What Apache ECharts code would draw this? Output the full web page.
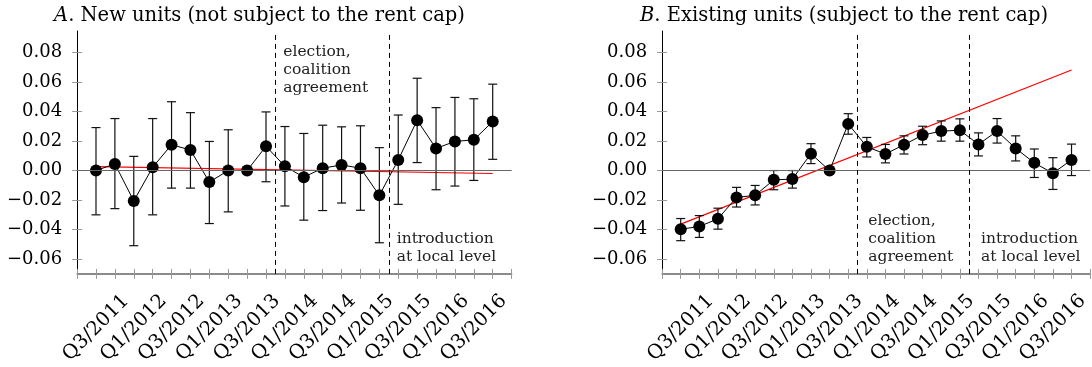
<!DOCTYPE html>
<html>
<head>
<meta charset="utf-8">
<script src="https://cdn.jsdelivr.net/npm/echarts@6/dist/echarts.min.js"></script>
<style>
html,body{margin:0;padding:0;background:#fff;}
#c{width:1092px;height:367px;}
</style>
</head>
<body>
<div id="c"></div>
<script>
// ---- data ----
const quarters = ['Q3/2011','Q4/2011','Q1/2012','Q2/2012','Q3/2012','Q4/2012','Q1/2013','Q2/2013',
  'Q3/2013','Q4/2013','Q1/2014','Q2/2014','Q3/2014','Q4/2014','Q1/2015','Q2/2015','Q3/2015','Q4/2015',
  'Q1/2016','Q2/2016','Q3/2016','Q4/2016'];
const labelledIdx = [0,2,4,6,8,10,12,14,16,18,20];
const yTicks = [-0.06,-0.04,-0.02,0,0.02,0.04,0.06,0.08];
const eventLines = [9.5, 15.5];

const estA = [0.000, 0.0045, -0.0206, 0.0022, 0.0175, 0.0139, -0.0078, 0.000, 0.000, 0.0164, 0.0029,
  -0.0045, 0.0016, 0.0038, 0.0016, -0.0168, 0.0072, 0.0341, 0.0150, 0.0197, 0.0208, 0.0332];
const hiA = [0.0291, 0.0352, 0.0096, 0.0352, 0.0466, 0.0392, 0.0197, 0.0276, null, 0.0397, 0.0298,
  0.0251, 0.0307, 0.0296, 0.0303, 0.0155, 0.0376, 0.0625, 0.0426, 0.0495, 0.0486, 0.0585];
const loA = [-0.0300, -0.0258, -0.0509, -0.0300, -0.0119, -0.0119, -0.0359, -0.0280, null, -0.0076, -0.0240,
  -0.0336, -0.0271, -0.0220, -0.0269, -0.0489, -0.0229, 0.0054, -0.0130, -0.0105, -0.0067, 0.0076];
const trendAx = [0, 21];
const trendAy = [0.0027, -0.0020];

const estB = [-0.0397, -0.0379, -0.0327, -0.0182, -0.0168, -0.0063, -0.0058, 0.0114, 0.000, 0.0316, 0.0161,
  0.0112, 0.0175, 0.0240, 0.0267, 0.0273, 0.0177, 0.0267, 0.0150, 0.0052, -0.0018, 0.0072];
const hiB = [-0.0325, -0.0305, -0.0255, -0.0114, -0.0101, 0.0000, 0.0000, 0.0182, null, 0.0385, 0.0224,
  0.0177, 0.0235, 0.0300, 0.0336, 0.0350, 0.0255, 0.0352, 0.0235, 0.0146, 0.0087, 0.0179];
const loB = [-0.0475, -0.0453, -0.0397, -0.0247, -0.0233, -0.0130, -0.0119, 0.0047, null, 0.0246, 0.0092,
  0.0052, 0.0112, 0.0175, 0.0199, 0.0199, 0.0099, 0.0186, 0.0065, -0.0047, -0.0128, -0.0034];
const trendBx = [0, 21];
const trendBy = [-0.0363, 0.0681];

// ---- chart ----
const FONT = 'DejaVu Serif';
const chart = echarts.init(document.getElementById('c'), null, {renderer:'canvas'});
const xTickVals = []; for (let i = -1; i <= 22; i++) xTickVals.push(i);
const fmtY = v => (v < -1e-9 ? '\u2212' : '') + Math.abs(v).toFixed(2);

function grid(left){ return {left: left, top: 31, width: 434.5, height: 244.5, containLabel: false}; }
function xAxes(gi){
  return [{
    type:'value', gridIndex: gi, min:-1, max:22, position:'bottom',
    axisLine:{show:true, onZero:false, lineStyle:{color:'#666', width:1.5}},
    axisTick:{show:true, inside:false, length:5, customValues:xTickVals, lineStyle:{color:'#999', width:1}},
    axisLabel:{show:true, customValues:labelledIdx, rotate:45, align:'center', verticalAlign:'middle',
      margin:54, fontFamily:FONT, fontSize:19.5, color:'#000', formatter: v => quarters[Math.round(v)]},
    splitLine:{show:false}
  },{
    type:'value', gridIndex: gi, min:-1, max:22, position:'bottom',
    axisLine:{show:false, onZero:false},
    axisTick:{show:true, inside:true, length:5, customValues:xTickVals, lineStyle:{color:'#999', width:1}},
    axisLabel:{show:false}, splitLine:{show:false}
  }];
}
function yAxes(gi){
  return [{
    type:'value', gridIndex: gi, min:-0.07, max:0.0945, position:'left',
    axisLine:{show:true, onZero:false, lineStyle:{color:'#000', width:1}},
    axisTick:{show:true, inside:false, length:5, customValues:yTicks, lineStyle:{color:'#999', width:1}},
    axisLabel:{show:true, customValues:yTicks, margin:15, fontFamily:FONT, fontSize:18, color:'#000', formatter: fmtY},
    splitLine:{show:false}
  },{
    type:'value', gridIndex: gi, min:-0.07, max:0.0945, position:'left',
    axisLine:{show:false, onZero:false},
    axisTick:{show:true, inside:true, length:5, customValues:yTicks, lineStyle:{color:'#999', width:1}},
    axisLabel:{show:false}, splitLine:{show:false}
  }];
}

function errRender(params, api){
  const x = api.value(0), lo = api.value(1), hi = api.value(2);
  const a = api.coord([x, lo]), b = api.coord([x, hi]);
  const w = 4.5;
  const st = {stroke:'#111', lineWidth:1.2};
  return {type:'group', children:[
    {type:'line', shape:{x1:a[0], y1:a[1], x2:b[0], y2:b[1]}, style:st},
    {type:'line', shape:{x1:a[0]-w, y1:a[1], x2:a[0]+w, y2:a[1]}, style:st},
    {type:'line', shape:{x1:b[0]-w, y1:b[1], x2:b[0]+w, y2:b[1]}, style:st}
  ]};
}

function panelSeries(gi, est, lo, hi, tx, ty){
  const xi = gi*2, yi = gi*2;
  const errData = [];
  est.forEach((v,i) => { if (lo[i] != null && hi[i] != null) errData.push([i, lo[i], hi[i]]); });
  return [
    {
      type:'line', xAxisIndex:xi, yAxisIndex:yi, data: tx.map((x,i)=>[x, ty[i]]),
      symbol:'none', lineStyle:{color:'#ff0000', width:1.2}, silent:true, z:2,
      markLine:{
        silent:true, symbol:['none','none'], label:{show:false}, animation:false,
        data:[
          {yAxis:0, lineStyle:{color:'#666', width:1.2, type:'solid'}},
          ...eventLines.map(v => ({xAxis:v, lineStyle:{color:'#000', width:1, type:[5,4]}}))
        ]
      }
    },
    {
      type:'custom', xAxisIndex:xi, yAxisIndex:yi, data: errData, renderItem: errRender,
      encode:{x:0, y:[1,2]}, silent:true, z:3
    },
    {
      type:'line', xAxisIndex:xi, yAxisIndex:yi, data: est.map((v,i)=>[i, v]),
      symbol:'circle', symbolSize:12, itemStyle:{color:'#000'}, lineStyle:{color:'#000', width:1},
      silent:true, z:4
    }
  ];
}

const annoStyle = (x, y, text) => ({
  type:'text', left:x, top:y, silent:true,
  style:{text:text, font:'15.5px "DejaVu Serif"', fill:'#222', lineHeight:18}
});

const option = {
  animation:false,
  backgroundColor:'#fff',
  grid:[grid(77.1), grid(662.1)],
  xAxis:[...xAxes(0), ...xAxes(1)].map((a,k)=>Object.assign(a,{gridIndex: k<2?0:1})),
  yAxis:[...yAxes(0), ...yAxes(1)].map((a,k)=>Object.assign(a,{gridIndex: k<2?0:1})),
  series:[
    ...panelSeries(0, estA, loA, hiA, trendAx, trendAy),
    ...panelSeries(1, estB, loB, hiB, trendBx, trendBy)
  ],
  graphic:[
    {type:'text', x:259.5, y:16, silent:true,
      style:{text:'{i|A}. New units (not subject to the rent cap)', align:'center', verticalAlign:'middle',
        font:'19.5px "DejaVu Serif"', fill:'#000',
        rich:{i:{fontStyle:'italic', fontFamily:FONT, fontSize:19.5}}}},
    {type:'text', x:844, y:16, silent:true,
      style:{text:'{i|B}. Existing units (subject to the rent cap)', align:'center', verticalAlign:'middle',
        font:'19.5px "DejaVu Serif"', fill:'#000',
        rich:{i:{fontStyle:'italic', fontFamily:FONT, fontSize:19.5}}}},
    annoStyle(283.3, 42.7, 'election,\ncoalition\nagreement'),
    annoStyle(396.7, 230.3, 'introduction\nat local level'),
    annoStyle(868.3, 212, 'election,\ncoalition\nagreement'),
    annoStyle(981, 230.3, 'introduction\nat local level')
  ]
};
chart.setOption(option);
</script>
</body>
</html>
